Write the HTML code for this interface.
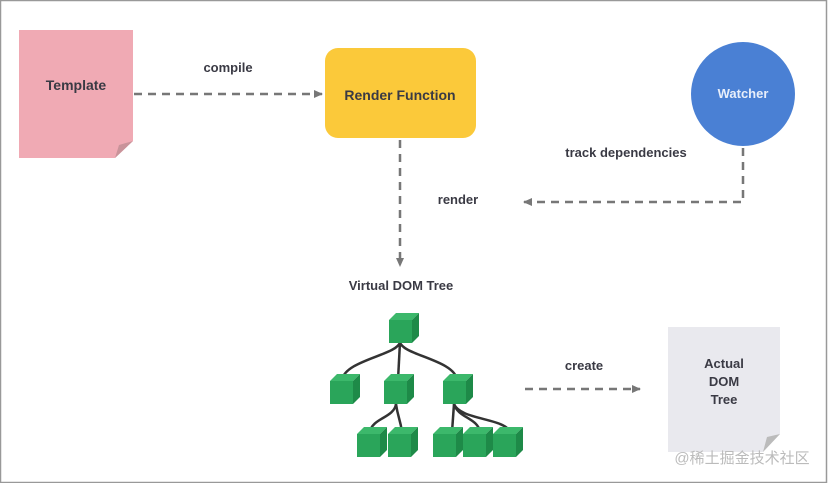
<!DOCTYPE html>
<html><head><meta charset="utf-8"><style>
html,body{margin:0;padding:0;background:#fff}
svg{display:block}
text{font-family:"Liberation Sans","Noto Sans CJK SC",sans-serif;font-weight:bold;fill:#3a3a44}
</style></head><body>
<svg width="830" height="483" viewBox="0 0 830 483" xmlns="http://www.w3.org/2000/svg">
<defs>
<marker id="ah" markerWidth="10" markerHeight="10" refX="8" refY="5" orient="auto" markerUnits="userSpaceOnUse">
<path d="M0,1 L9,5 L0,9 Z" fill="#777"/></marker>
<g id="cube">
<path d="M0,0 L7,-7 L30,-7 L23,0 Z" fill="#3cb86b"/>
<path d="M23,0 L30,-7 L30,16 L23,23 Z" fill="#1e8a48"/>
<rect x="0" y="0" width="23" height="23" fill="#2aa55a"/>
</g>
</defs>
<rect x="0.5" y="0.5" width="826" height="482" fill="none" stroke="#999" stroke-width="1.5"/>
<!-- Template -->
<path d="M19,30 L133,30 L133,141 L115,158 L19,158 Z" fill="#f0aab4"/>
<path d="M115,158 L119,145 L133,141 Z" fill="#c9939a"/>
<text x="76" y="90" font-size="14" text-anchor="middle">Template</text>
<text x="228" y="72" font-size="13" text-anchor="middle">compile</text>
<line x1="134" y1="94" x2="322" y2="94" stroke="#777" stroke-width="2.5" stroke-dasharray="8,6" marker-end="url(#ah)"/>
<!-- Render function -->
<rect x="325" y="48" width="151" height="90" rx="13" fill="#fbc93a"/>
<text x="400" y="100" font-size="14" text-anchor="middle" fill="#222">Render Function</text>
<!-- Watcher -->
<circle cx="743" cy="94" r="52" fill="#4a80d4"/>
<text x="743" y="98" font-size="13" text-anchor="middle" style="fill:#e8eefa">Watcher</text>
<text x="626" y="157" font-size="13" text-anchor="middle">track dependencies</text>
<path d="M743,148 L743,202 L524,202" fill="none" stroke="#777" stroke-width="2.5" stroke-dasharray="8,6" marker-end="url(#ah)"/>
<text x="458" y="204" font-size="13" text-anchor="middle">render</text>
<line x1="400" y1="140" x2="400" y2="266" stroke="#777" stroke-width="2.5" stroke-dasharray="8,6" marker-end="url(#ah)"/>
<text x="401" y="290" font-size="13" text-anchor="middle">Virtual DOM Tree</text>
<!-- tree lines -->
<g fill="none" stroke="#333" stroke-width="2.5">
<path d="M400,342 C398,355 345,360 342,380"/>
<path d="M400,342 L398,380"/>
<path d="M400,342 C402,355 455,360 457,380"/>
<path d="M396,404 C394,418 372,418 370,432"/>
<path d="M396,404 C398,418 400,418 402,432"/>
<path d="M454,404 L452,432"/>
<path d="M454,404 C458,418 478,418 480,432"/>
<path d="M454,404 C460,420 505,418 510,432"/>
</g>
<use href="#cube" x="389" y="320"/>
<use href="#cube" x="330" y="381"/>
<use href="#cube" x="384" y="381"/>
<use href="#cube" x="443" y="381"/>
<use href="#cube" x="357" y="434"/>
<use href="#cube" x="388" y="434"/>
<use href="#cube" x="433" y="434"/>
<use href="#cube" x="463" y="434"/>
<use href="#cube" x="493" y="434"/>
<text x="584" y="370" font-size="13" text-anchor="middle">create</text>
<line x1="525" y1="389" x2="640" y2="389" stroke="#777" stroke-width="2.5" stroke-dasharray="8,6" marker-end="url(#ah)"/>
<!-- Actual DOM -->
<path d="M668,327 L780,327 L780,434 L763,452 L668,452 Z" fill="#e9e9ee"/>
<path d="M763,452 L767,437 L780,434 Z" fill="#bbb"/>
<text x="724" y="368" font-size="13" text-anchor="middle">Actual</text>
<text x="724" y="386" font-size="13" text-anchor="middle">DOM</text>
<text x="724" y="404" font-size="13" text-anchor="middle">Tree</text>
<text x="742" y="463" font-size="15" text-anchor="middle" style="font-weight:normal;fill:#bbb">@稀土掘金技术社区</text>
</svg>
</body></html>
